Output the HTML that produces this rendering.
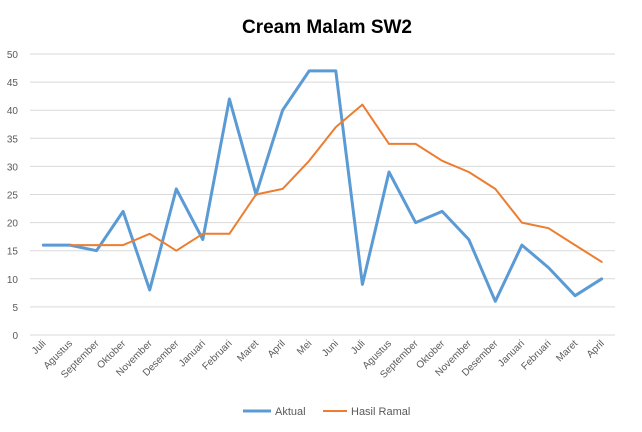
<!DOCTYPE html>
<html><head><meta charset="utf-8"><style>
body{margin:0;background:#fff;}
svg{display:block;font-family:"Liberation Sans",sans-serif;}
</style></head><body>
<svg id="c" width="642" height="432">
<text x="327" y="33" text-anchor="middle" font-size="19" font-weight="bold" fill="#000">Cream Malam SW2</text>
<g id="grid"></g><g id="xl"></g><g id="series"></g>
<g>
<line x1="243" y1="411" x2="271" y2="411" stroke="#5b9bd5" stroke-width="3"/>
<text x="275" y="415" font-size="11" fill="#595959">Aktual</text>
<line x1="323" y1="411" x2="347" y2="411" stroke="#ed7d31" stroke-width="2"/>
<text x="351" y="415" font-size="11" fill="#595959">Hasil Ramal</text>
</g>
</svg>
<script>
const categories=["Juli","Agustus","September","Oktober","November","Desember","Januari","Februari","Maret","April","Mei","Juni","Juli","Agustus","September","Oktober","November","Desember","Januari","Februari","Maret","April"];
const aktual=[16,16,15,22,8,26,17,42,25,40,47,47,9,29,20,22,17,6,16,12,7,10];
const ramal=[null,16,16,16,18,15,18,18,25,26,31,37,41,34,34,31,29,26,20,19,16,13];
const yTicks=[0,5,10,15,20,25,30,35,40,45,50];
const NS="http://www.w3.org/2000/svg";
const x0=30,x1=615,y0=335,y1=54;
const step=(x1-x0)/categories.length;
const X=i=>x0+step*(i+0.5);
const Y=v=>y0-(v/50)*(y0-y1);
function mk(t,a,p){const e=document.createElementNS(NS,t);for(const k in a)e.setAttribute(k,a[k]);p.appendChild(e);return e;}
const g=document.getElementById('grid');
yTicks.forEach(v=>{
 const l=mk('line',{x1:x0,x2:x1,y1:Y(v),y2:Y(v),stroke:'#d9d9d9','stroke-width':1},g);
 
 
 const t=mk('text',{x:18,y:Y(v)+4,'text-anchor':'end','font-size':'10',fill:'#595959'},g);
 t.textContent=v;
 
 
});
const xl=document.getElementById('xl');
categories.forEach((c,i)=>{
 const t=mk('text',{x:X(i)+3,y:344,'text-anchor':'end','font-size':'10',fill:'#595959',transform:`rotate(-45 ${X(i)+3} 344)`},xl);
 t.textContent=c;
 
 
});
const s=document.getElementById('series');
function line(d,col,w,name){
 const pts=d.map((v,i)=>v==null?null:X(i).toFixed(1)+','+Y(v).toFixed(1)).filter(p=>p);
 const p=mk('polyline',{points:pts.join(' '),fill:'none',stroke:col,'stroke-width':w,'stroke-linejoin':'round','stroke-linecap':'round'},s);
 
 
}
line(aktual,'#5b9bd5',3,'aktual-line');
line(ramal,'#ed7d31',2,'hasil-ramal-line');
</script>
</body></html>
